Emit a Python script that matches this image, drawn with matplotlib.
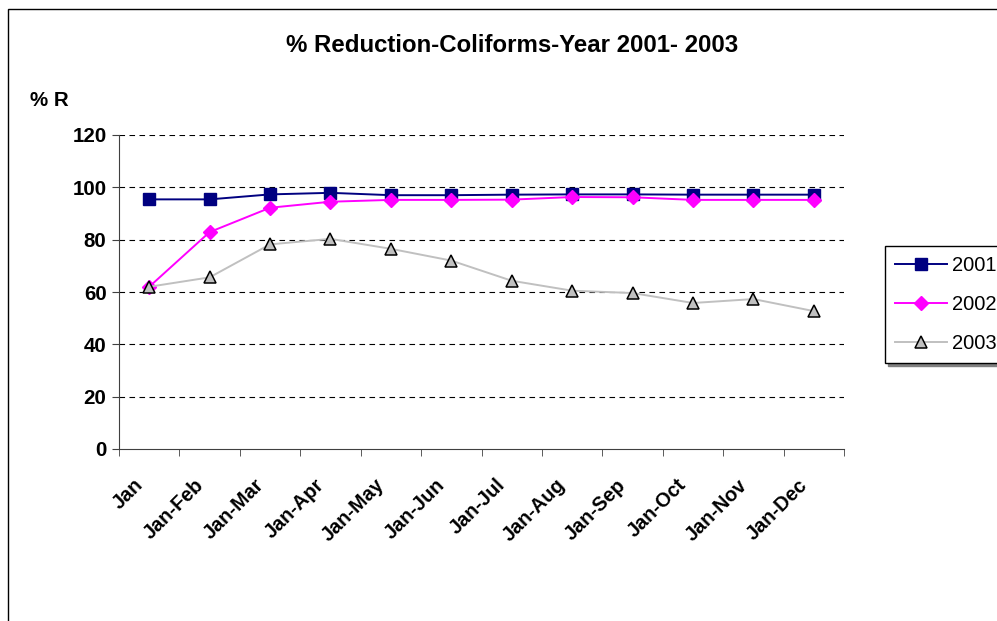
import matplotlib.pyplot as plt
import matplotlib.patches as mpatches
import matplotlib.transforms as mtransforms
import numpy as np

months = ['Jan', 'Jan-Feb', 'Jan-Mar', 'Jan-Apr', 'Jan-May', 'Jan-Jun',
          'Jan-Jul', 'Jan-Aug', 'Jan-Sep', 'Jan-Oct', 'Jan-Nov', 'Jan-Dec']
y2001 = [95.4, 95.4, 97.3, 97.9, 97.0, 97.0, 97.2, 97.3, 97.3, 97.2, 97.2, 97.2]
y2002 = [62.0, 82.9, 92.2, 94.5, 95.2, 95.2, 95.3, 96.3, 96.2, 95.2, 95.2, 95.2]
y2003 = [62.0, 65.6, 78.2, 80.3, 76.5, 72.0, 64.3, 60.5, 59.6, 55.8, 57.3, 52.7]

plt.rcParams['font.family'] = ['Liberation Sans', 'DejaVu Sans']

fig = plt.figure(figsize=(9.97, 6.21), dpi=100)
fig.patches.append(mpatches.Rectangle((8 / 997, -0.1), 1.2, 1.1 - 9 / 621,
                                      transform=fig.transFigure, fill=False,
                                      edgecolor='black', linewidth=1.0))

ax = fig.add_axes([119 / 997, 1 - 449 / 621, 725 / 997, 314 / 621])
x = np.arange(len(months))

ax.plot(x, y2001, color='#000080', marker='s', markersize=8.5,
        linewidth=1.4, label='2001')
ax.plot(x, y2002, color='#ff00ff', marker='D', markersize=7.5,
        linewidth=1.4, label='2002')
ax.plot(x, y2003, color='#c0c0c0', marker='^', markersize=9,
        markerfacecolor='#c0c0c0', markeredgecolor='black',
        markeredgewidth=1.1, linewidth=1.4, label='2003')

ax.set_xlim(-0.5, len(months) - 0.5)
ax.set_ylim(0, 120)
ax.set_yticks(range(0, 121, 20))
for v in range(20, 121, 20):
    ax.axhline(v, color='black', linestyle=(0, (5, 4)), linewidth=0.8,
               zorder=0)

ax.set_xticks(x)
ax.set_xticklabels(months, rotation=45, ha='right', rotation_mode='anchor',
                   fontsize=14.3, fontweight='bold')
ax.set_xticks(np.arange(-0.5, len(months)), minor=True)
ax.tick_params(axis='x', which='major', length=0, pad=19)
ax.tick_params(axis='x', which='minor', length=5, color='#404040')
ax.tick_params(axis='y', length=5, color='#404040', labelsize=14.8, pad=4)
for lbl in ax.get_yticklabels():
    lbl.set_fontweight('bold')

# nudge the slanted month labels to the left, under their slot
shift = mtransforms.ScaledTranslation(-0.16, 0, fig.dpi_scale_trans)
for lbl in ax.get_xticklabels():
    lbl.set_transform(lbl.get_transform() + shift)

for side in ['top', 'right']:
    ax.spines[side].set_visible(False)
for side in ['left', 'bottom']:
    ax.spines[side].set_color('#404040')

fig.text(512 / 997, 1 - 45 / 621, '% Reduction-Coliforms-Year 2001- 2003',
         ha='center', va='center', fontsize=17.3, fontweight='bold')
fig.text(30 / 997, 1 - 101 / 621, '% R', ha='left', va='center',
         fontsize=14.8, fontweight='bold')

leg = ax.legend(loc='upper left', bbox_to_anchor=(885 / 997, 1 - 246 / 621),
                bbox_transform=fig.transFigure, frameon=True, fancybox=False,
                shadow={'color': '#808080', 'alpha': 1.0}, fontsize=14.5,
                handlelength=2.6, labelspacing=1.0, borderpad=0.5,
                handletextpad=0.25, borderaxespad=0)
leg.get_frame().set_edgecolor('black')
leg.get_frame().set_linewidth(1.0)

fig.savefig('out.png', dpi=100)
